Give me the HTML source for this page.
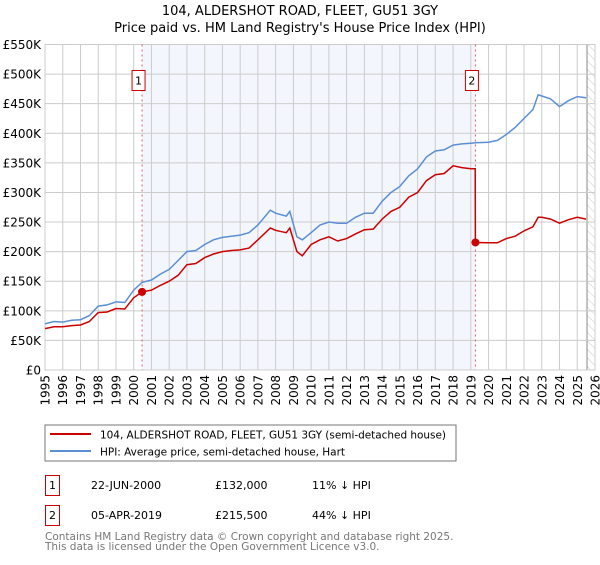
<!DOCTYPE html>
<html><head><meta charset="utf-8"><style>
body{margin:0;background:#fff;font-family:"Liberation Sans","DejaVu Sans",sans-serif;}
svg text{font-family:"DejaVu Sans","Liberation Sans",sans-serif;}
</style></head><body>
<svg id="c" width="600" height="560" xmlns="http://www.w3.org/2000/svg">
<defs><pattern id="hatch" width="6" height="6" patternUnits="userSpaceOnUse" patternTransform="rotate(-45)"><line x1="0" y1="0" x2="0" y2="6" stroke="#ccc" stroke-width="1"/></pattern></defs>
<text x="300" y="15" text-anchor="middle" font-size="13">104, ALDERSHOT ROAD, FLEET, GU51 3GY</text>
<text x="300" y="32" text-anchor="middle" font-size="13">Price paid vs. HM Land Registry's House Price Index (HPI)</text>
<g id="plot"></g>
<rect x="45" y="425" width="411" height="36" fill="#fff" stroke="#777"/>
<line x1="50" y1="434" x2="91" y2="434" stroke="#cc0000" stroke-width="2"/>
<text x="100" y="438.5" font-size="10.5" textLength="346">104, ALDERSHOT ROAD, FLEET, GU51 3GY (semi-detached house)</text>
<line x1="50" y1="451" x2="91" y2="451" stroke="#5b8fd4" stroke-width="2"/>
<text x="100" y="455.5" font-size="10.5" textLength="245">HPI: Average price, semi-detached house, Hart</text>
<rect x="45.5" y="475.5" width="14" height="20" fill="#fff" stroke="#cc0000"/>
<text x="52.5" y="489" font-size="11" text-anchor="middle">1</text>
<text x="91" y="489" font-size="11">22-JUN-2000</text>
<text x="215" y="489" font-size="11">£132,000</text>
<text x="312" y="489" font-size="11">11% ↓ HPI</text>
<rect x="45.5" y="505.5" width="14" height="20" fill="#fff" stroke="#cc0000"/>
<text x="52.5" y="519" font-size="11" text-anchor="middle">2</text>
<text x="91" y="519" font-size="11">05-APR-2019</text>
<text x="215" y="519" font-size="11">£215,500</text>
<text x="312" y="519" font-size="11">44% ↓ HPI</text>
<text x="45" y="540" font-size="10.5" fill="#777">Contains HM Land Registry data © Crown copyright and database right 2025.</text>
<text x="45" y="550" font-size="10.5" fill="#777">This data is licensed under the Open Government Licence v3.0.</text>
</svg>
<script>
const hpiYears=[1995,1995.5,1996,1996.5,1997,1997.5,1998,1998.5,1999,1999.5,2000,2000.47,2001,2001.5,2002,2002.5,2003,2003.5,2004,2004.5,2005,2005.5,2006,2006.5,2007,2007.7,2008,2008.6,2008.8,2009.2,2009.5,2010,2010.5,2011,2011.5,2012,2012.5,2013,2013.5,2014,2014.5,2015,2015.5,2016,2016.5,2017,2017.5,2018,2018.5,2019,2019.26,2020,2020.5,2021,2021.5,2022,2022.5,2022.8,2023,2023.5,2024,2024.5,2025,2025.5];
const hpiValues=[78,82,81,84,85,92,108,110,115,114,135,148,152,162,170,185,200,202,212,220,224,226,228,232,245,270,265,260,268,225,220,232,245,250,248,248,258,265,265,285,300,310,328,340,360,370,372,380,382,383,384,385,388,398,410,425,440,465,463,458,445,455,462,460];
const redYears=[1995,1995.5,1996,1996.5,1997,1997.5,1998,1998.5,1999,1999.5,2000,2000.47,2001,2001.5,2002,2002.5,2003,2003.5,2004,2004.5,2005,2005.5,2006,2006.5,2007,2007.7,2008,2008.6,2008.8,2009.2,2009.5,2010,2010.5,2011,2011.5,2012,2012.5,2013,2013.5,2014,2014.5,2015,2015.5,2016,2016.5,2017,2017.5,2018,2018.5,2019,2019.25,2019.26,2020,2020.5,2021,2021.5,2022,2022.5,2022.8,2023,2023.5,2024,2024.5,2025,2025.5];
const redValues=[70,73,73,75,76,82,97,98,104,103,122,132,135,143,150,160,178,180,190,196,200,202,203,206,220,240,236,232,240,200,193,212,220,225,218,222,230,237,238,255,268,275,292,300,320,330,332,345,342,340,340,215.5,215,215,222,226,235,242,258,258,255,248,254,258,255];
const saleYears=[2000.47,2019.26];
const saleValues=[132,215.5];
const yTicks=[0,50,100,150,200,250,300,350,400,450,500,550];
const yTickLabels=['£0','£50K','£100K','£150K','£200K','£250K','£300K','£350K','£400K','£450K','£500K','£550K'];
const xTicks=[1995,1996,1997,1998,1999,2000,2001,2002,2003,2004,2005,2006,2007,2008,2009,2010,2011,2012,2013,2014,2015,2016,2017,2018,2019,2020,2021,2022,2023,2024,2025,2026];

const L=45,R=595,T=44.5,B=370;
const X=y=>L+(y-1995)/(2026-1995)*(R-L);
const Y=v=>B-v/550*(B-T);
const NS='http://www.w3.org/2000/svg';
const g=document.getElementById('plot');
function mk(t,a,p){const e=document.createElementNS(NS,t);for(const k in a)e.setAttribute(k,a[k]);(p||g).appendChild(e);return e;}
mk('rect',{x:L,y:T,width:R-L,height:B-T,fill:'#fff'});
let sh=mk('rect',{x:X(saleYears[0]),y:T,width:X(saleYears[1])-X(saleYears[0]),height:B-T,fill:'#eef2fc',opacity:0.7});


let ht=mk('rect',{x:X(2025.55),y:T,width:R-X(2025.55),height:B-T,fill:'url(#hatch)'});


mk('line',{x1:X(2025.55),y1:T,x2:X(2025.55),y2:B,stroke:'#888'});
yTicks.forEach((v,i)=>{
 mk('line',{x1:L,x2:R,y1:Y(v),y2:Y(v),stroke:'#ccc'});
 const t=mk('text',{x:L-4,y:Y(v)+4.5,'text-anchor':'end','font-size':12});t.textContent=yTickLabels[i];
 
 
});
xTicks.forEach(y=>{
 mk('line',{x1:X(y),x2:X(y),y1:T,y2:B,stroke:'#ccc'});
 const t=mk('text',{x:0,y:0,'text-anchor':'end','font-size':12,transform:`translate(${X(y)+4.5},${B+5}) rotate(-90)`});t.textContent=y;
 
 
});
mk('rect',{x:L,y:T,width:R-L,height:B-T,fill:'none',stroke:'#ccc'});
saleYears.forEach((y,i)=>{
 mk('line',{x1:X(y),x2:X(y),y1:T,y2:B,stroke:'#e06060','stroke-dasharray':'2,3'});
 const bx=X(y)-3.5;
 const r=mk('rect',{x:bx-6.5,y:70.5,width:13,height:20,fill:'#fff',stroke:'#cc0000'});
 
 
 const t=mk('text',{x:bx,y:84.5,'text-anchor':'middle','font-size':11});t.textContent=i+1;
});
const pts=(xs,vs)=>xs.map((y,i)=>X(y).toFixed(1)+','+Y(vs[i]).toFixed(1)).join(' ');
let hp=mk('polyline',{points:pts(hpiYears,hpiValues),fill:'none',stroke:'#5b8fd4','stroke-width':1.5});


let rp=mk('polyline',{points:pts(redYears,redValues),fill:'none',stroke:'#cc0000','stroke-width':1.5});


saleYears.forEach((y,i)=>{
 const c=mk('circle',{cx:X(y),cy:Y(saleValues[i]),r:4,fill:'#cc0000'});
 
 
});
</script>
</body></html>
